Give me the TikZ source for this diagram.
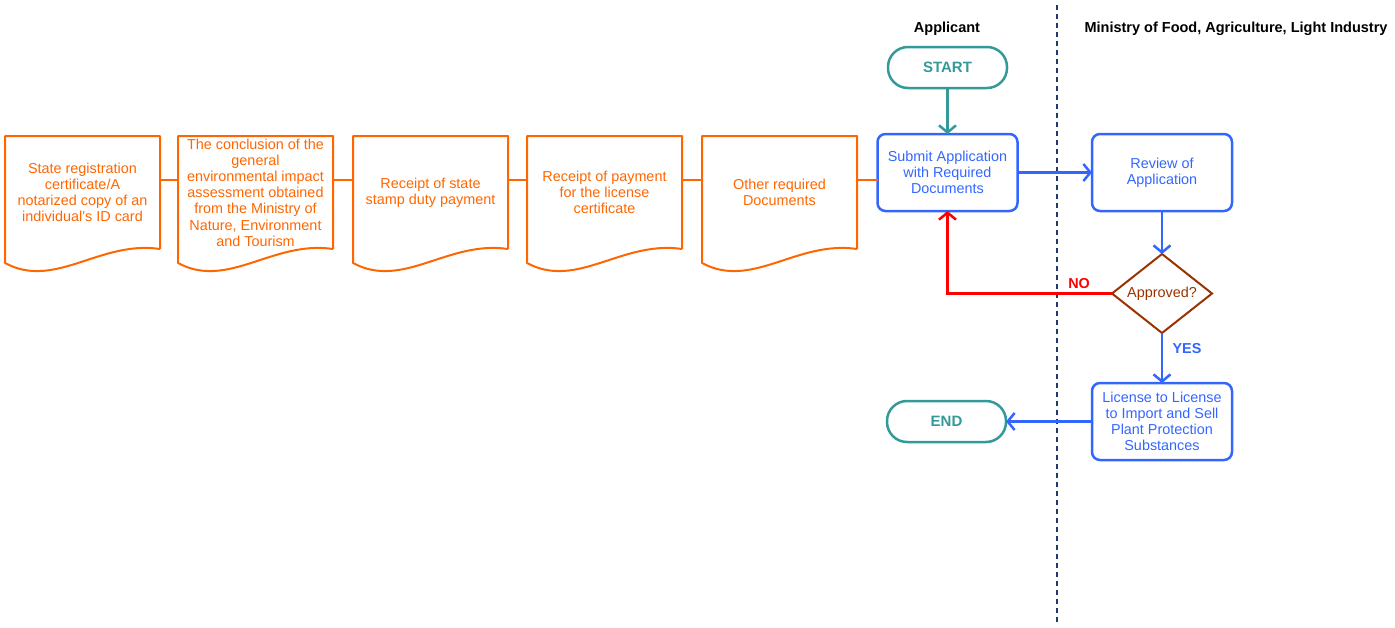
\documentclass[tikz,border=0pt]{standalone}
\usepackage{fontspec}
\setmainfont{Liberation Sans}
\usetikzlibrary{arrows.meta,shapes.geometric}
\definecolor{docorange}{HTML}{FF6600}
\definecolor{stepblue}{HTML}{3366FF}
\definecolor{termteal}{HTML}{339999}
\definecolor{decbrown}{HTML}{993300}
\definecolor{lanenavy}{HTML}{1F3A6E}
\newcommand{\txt}{\fontsize{14.4}{16.2}\selectfont}

\begin{document}
\begin{tikzpicture}[x=1pt,y=-1pt,
        docnode/.style={minimum width=155pt,minimum height=113pt,inner sep=1pt,outer sep=0pt,text=docorange,align=center,font=\txt},
        stepbox/.style={draw=stepblue,line width=2.5pt,rounded corners=8pt,minimum width=140pt,minimum height=77pt,inner sep=1pt,outer sep=0pt,text=stepblue,align=center,font=\txt},
        term/.style={draw=termteal,line width=2.5pt,rounded corners=20pt,minimum width=119pt,minimum height=41pt,outer sep=0pt,text=termteal,font=\fontsize{15}{17}\selectfont\bfseries},
        decision/.style={diamond,aspect=1.3,inner sep=0pt,draw=decbrown,line width=2pt,minimum width=100pt,minimum height=79pt,outer sep=0pt,text=decbrown,font=\txt},
        arr/.style={-{Straight Barb[length=7pt,width=17pt]},line width=2.5pt},
        lane/.style={font=\fontsize{14.5}{16}\selectfont\bfseries}]
        \useasboundingbox (0,0) rectangle (1395,627);

        \node[lane] (applicant) at (947,29) {Applicant};
        \node[lane] (ministry) at (1236,29) {Ministry of Food, Agriculture, Light Industry};
        \draw[lanenavy,line width=1.5pt,dash pattern=on 5pt off 4pt] (1057,5) -- (1057,622);

        \node[docnode] (d1) at (82.5,192.5) {State registration\\certificate/A\\notarized copy of an\\individual's ID card};
        \node[docnode] (d2) at (255.5,192.5) {The conclusion of the\\general\\environmental impact\\assessment obtained\\from the Ministry of\\Nature, Environment\\and Tourism};
        \node[docnode] (d3) at (430.5,192.5) {Receipt of state\\stamp duty payment};
        \node[docnode] (d4) at (604.5,192.5) {Receipt of payment\\for the license\\certificate};
        \node[docnode] (d5) at (779.5,192.5) {Other required\\Documents};
        \foreach \d in {d1,d2,d3,d4,d5}
            \draw[docorange,line width=2pt,line join=round] (\d.south east) -- (\d.north east) -- (\d.north west) -- ([yshift=-14pt]\d.south west) .. controls +(50,27) and +(-60,-9) .. (\d.south east);

        \node[term] (start) at (947.5,67.5) {START};
        \node[stepbox] (submit) at (947.5,172.5) {Submit Application\\with Required\\Documents};
        \node[stepbox] (review) at (1162,172.5) {Review of\\Application};
        \node[decision] (approved) at (1162,293.5) {Approved?};
        \node[stepbox] (license) at (1162,421.5) {License to License\\to Import and Sell\\Plant Protection\\Substances};
        \node[term] (end) at (946.5,421.5) {END};

        \draw[docorange,line width=2pt] ([yshift=12.5pt]d1.east) -- ([yshift=12.5pt]d2.west);
        \draw[docorange,line width=2pt] ([yshift=12.5pt]d2.east) -- ([yshift=12.5pt]d3.west);
        \draw[docorange,line width=2pt] ([yshift=12.5pt]d3.east) -- ([yshift=12.5pt]d4.west);
        \draw[docorange,line width=2pt] ([yshift=12.5pt]d4.east) -- ([yshift=12.5pt]d5.west);
        \draw[docorange,line width=2pt] ([yshift=12.5pt]d5.east) -- ([yshift=12.5pt]d5.east -| submit.west);

        \draw[arr,termteal] (start) -- (submit);
        \draw[arr,stepblue] (submit) -- (review);
        \draw[arr,stepblue] (review) -- (approved);
        \draw[arr,red] (approved.west) -| node[pos=0.1,above,font=\txt\bfseries] {NO} (submit.south);
        \draw[arr,stepblue] (approved) -- node[pos=0.32,right,xshift=6pt,font=\txt\bfseries] {YES} (license);
        \draw[arr,stepblue] (license) -- (end);
    \end{tikzpicture}
\end{document}
